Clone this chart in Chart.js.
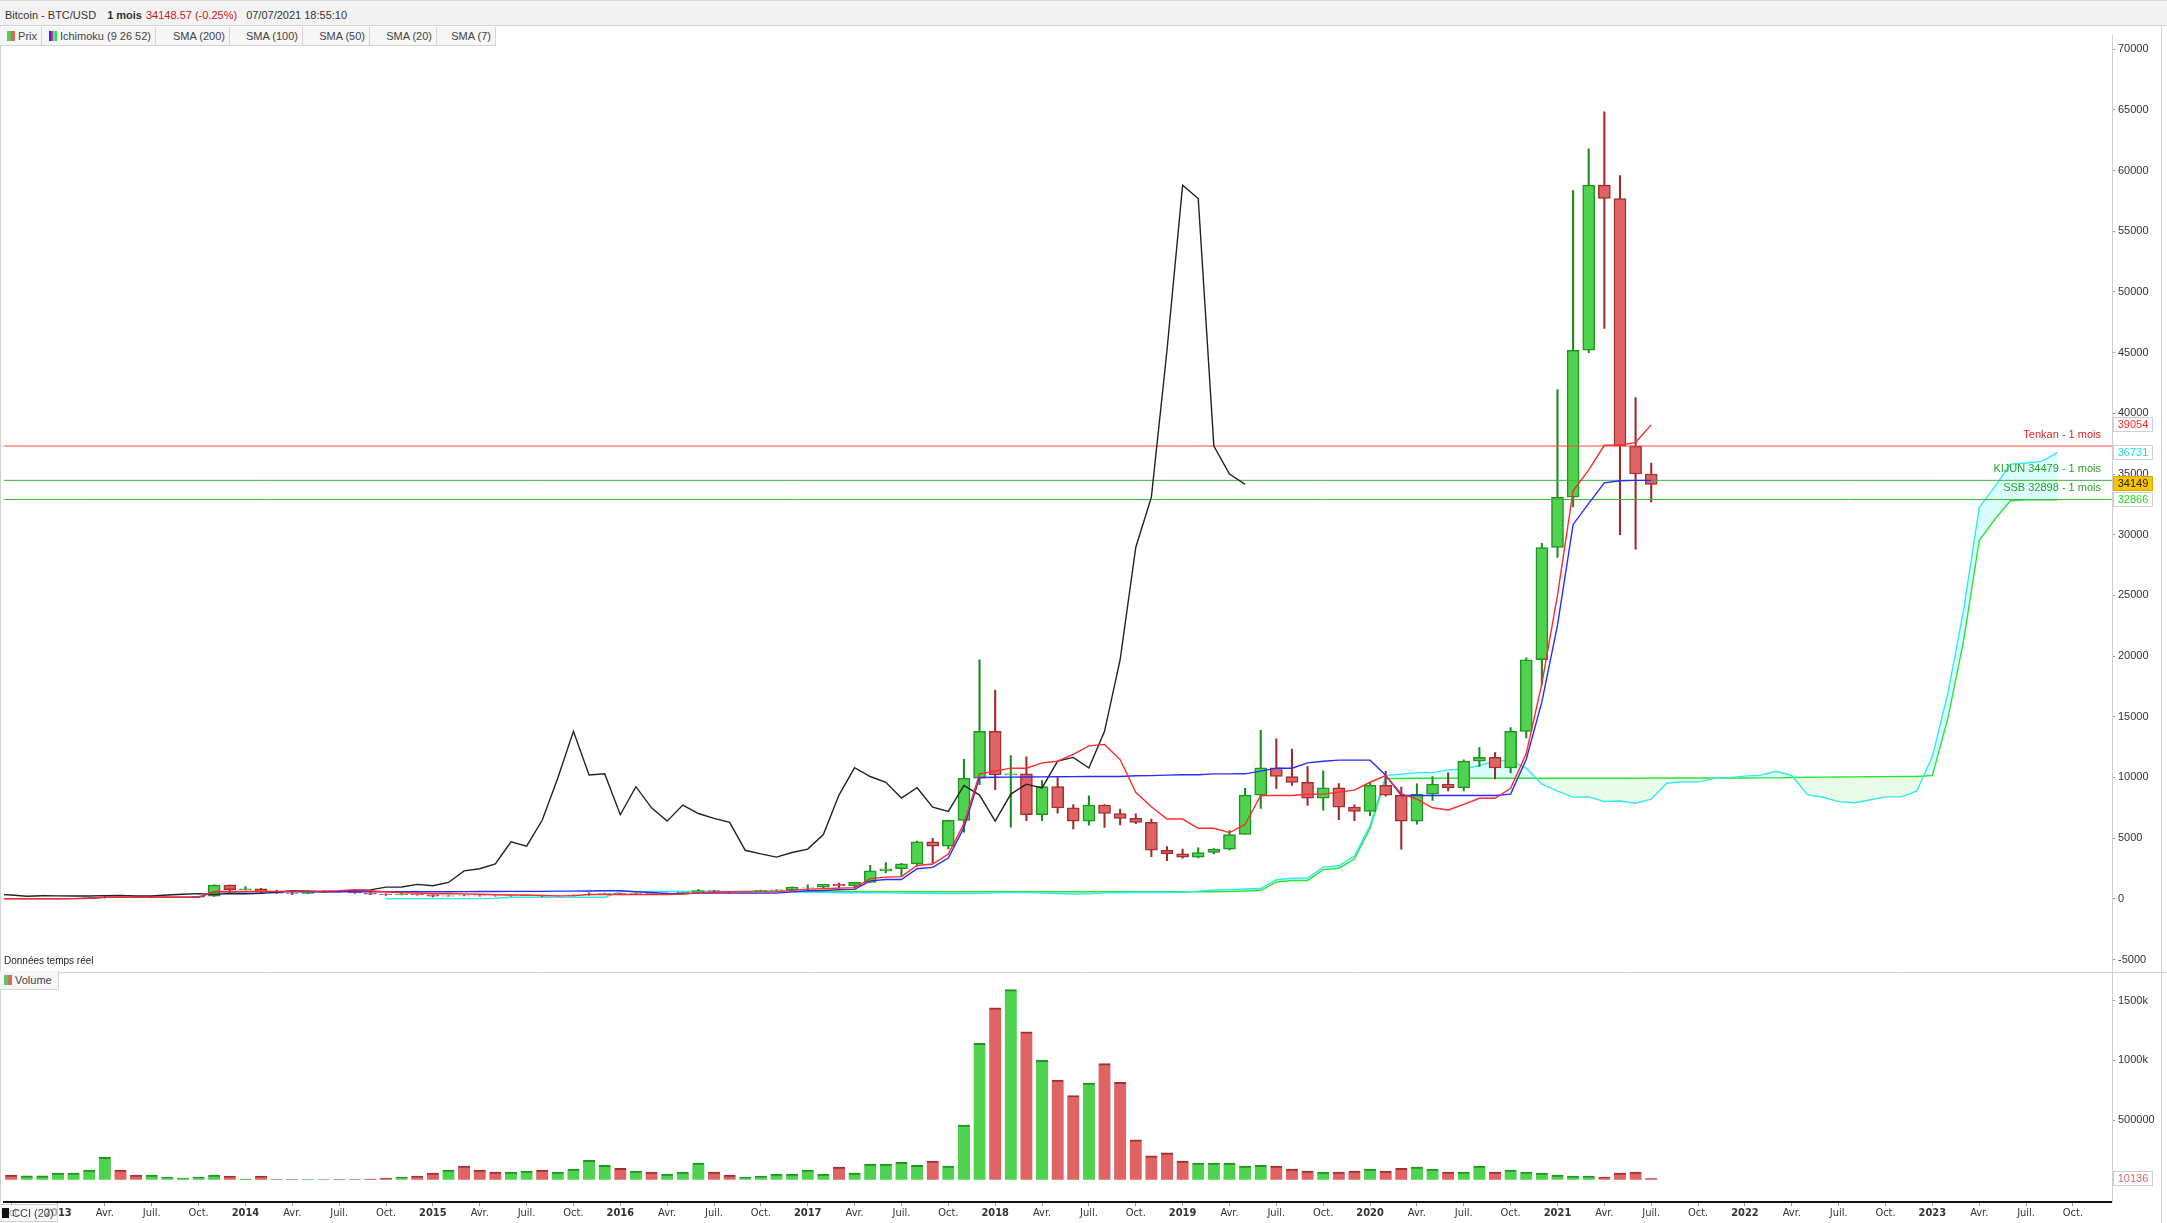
<!DOCTYPE html>
<html>
<head>
<meta charset="utf-8">
<script src="https://cdn.jsdelivr.net/npm/chart.js"></script>
<style>
  body { margin: 0; width: 2167px; height: 1223px; overflow: hidden; background: #fff; position: relative;
         font-family: "Liberation Sans", Arial, sans-serif; }
  #head { position: absolute; left: 0; top: 0; width: 2167px; height: 26px; box-sizing: border-box;
          background: #f3f3f3; border-top: 1px solid #d8d8d8; border-bottom: 1px solid #d0d0d0;
          font-size: 11px; color: #333; line-height: 29px; padding-left: 5px; white-space: nowrap; }
  #head b { font-weight: bold; margin-left: 8px; }
  #head .px { color: #c41a1a; margin-left: 4px; }
  #head .dt { margin-left: 9px; }
  #legend { position: absolute; left: 0; top: 27px; height: 19px; display: flex; font-size: 11px; color: #444; }
  #legend div { height: 19px; line-height: 19px; box-sizing: border-box; border: 1px solid #d4d4d4; border-top: none;
                border-left: none; background: #f6f6f6; text-align: right; padding-right: 4px; }
  .sw { display: inline-block; width: 8px; height: 10px; vertical-align: -1px; margin-right: 3px; }
  #vol { position: absolute; left: 0; top: 971px; width: 59px; height: 19px; box-sizing: border-box; border: 1px solid #d4d4d4;
         border-left: none; border-top: none; background: #f6f6f6; font-size: 11px; color: #444; line-height: 18px; padding-left: 4px; }
  #cci { position: absolute; left: 0; top: 1204px; width: 58px; height: 18px; box-sizing: border-box; border: 1px solid #cfcfcf;
         border-left: none; background: rgba(246,246,246,0.6); font-size: 11px; color: #444; line-height: 16px; padding-left: 2px; }
  #c { position: absolute; left: 0; top: 26px; }
</style>
</head>
<body>
<canvas id="c" width="2167" height="1197"></canvas>
<div id="head">Bitcoin - BTC/USD <b>1 mois</b><span class="px">34148.57 (-0.25%)</span><span class="dt">07/07/2021 18:55:10</span></div>
<div id="legend">
  <div style="width:42px"><span class="sw" style="background:linear-gradient(90deg,#4fd24f 50%,#e06464 50%)"></span>Prix</div>
  <div style="width:114px"><span class="sw" style="background:linear-gradient(90deg,#2b2bff 25%,#ff2a2a 25%,#ff2a2a 50%,#33e8f0 50%,#33e8f0 75%,#2ee62e 75%)"></span>Ichimoku (9 26 52)</div>
  <div style="width:74px">SMA (200)</div>
  <div style="width:73px">SMA (100)</div>
  <div style="width:67px">SMA (50)</div>
  <div style="width:67px">SMA (20)</div>
  <div style="width:59px">SMA (7)</div>
</div>
<div id="vol"><span class="sw" style="background:linear-gradient(90deg,#4fd24f 50%,#e06464 50%)"></span>Volume</div>
<div id="cci"><span class="sw" style="background:#111;width:7px"></span>CCI (20)</div>
<script>
// Monthly candles, first month = July 2010
const firstYear = 2010
const firstMonth = 7

const open = [
  0.05, 0.07, 0.06, 0.06, 0.19, 0.21,
  0.30, 0.52, 0.86, 0.78, 3.5, 8.7, 16.1, 13.4, 8.2, 5.1, 3.25, 2.97,
  4.7, 5.5, 4.9, 4.9, 5.0, 5.2, 6.7, 9.3, 10.2, 12.4, 11.2, 12.6,
  13.5, 20.4, 33.4, 93, 139, 129, 97, 106, 135, 139, 211, 1130,
  754, 830, 550, 457, 447, 630, 640, 585, 480, 387, 338, 378,
  320, 217, 254, 244, 236, 230, 263, 284, 230, 236, 314, 377,
  430, 368, 437, 416, 448, 531, 673, 624, 575, 609, 700, 742,
  964, 970, 1190, 1080, 1350, 2300, 2480, 2875, 4700, 4340, 6470, 9950,
  13800, 10200, 10300, 6930, 9240, 7500, 6400, 7730, 7030, 6630, 6300, 4000,
  3700, 3440, 3820, 4100, 5300, 8550, 10800, 10080, 9600, 8300, 9150, 7550,
  7200, 9350, 8550, 6400, 8630, 9450, 9140, 11350, 11650, 10780, 13800, 19700,
  28950, 33100, 45200, 58800, 57700, 37300, 35000
]
const high = [
  0.10, 0.07, 0.17, 0.20, 0.50, 0.30,
  0.50, 1.10, 0.95, 4.0, 9.0, 31.9, 17.0, 14.0, 9.0, 5.2, 3.5, 4.8,
  7.2, 6.2, 5.4, 5.3, 5.2, 6.7, 9.6, 15.4, 12.5, 12.9, 12.6, 13.9,
  20.4, 33.4, 95.7, 259, 140, 129, 111, 141, 145, 220, 1163, 1163,
  1000, 870, 715, 547, 635, 680, 650, 600, 510, 415, 465, 385,
  320, 265, 300, 261, 247, 268, 318, 285, 247, 331, 502, 468,
  462, 445, 440, 470, 548, 780, 704, 624, 612, 720, 755, 979,
  1154, 1200, 1290, 1360, 2760, 2980, 2920, 4750, 4980, 6490, 11500, 19700,
  17200, 11800, 11700, 9750, 10000, 7770, 8480, 7770, 7400, 7000, 6570, 4300,
  4100, 4200, 4150, 5620, 9100, 13880, 13180, 12330, 10900, 10540, 9500, 7750,
  9580, 10500, 9200, 9470, 10070, 10380, 11450, 12470, 12050, 14100, 19860, 29300,
  41950, 58350, 61800, 64854, 59600, 41300, 35900
]
const low = [
  0.05, 0.06, 0.06, 0.06, 0.19, 0.20,
  0.30, 0.52, 0.70, 0.60, 3.0, 8.7, 12.0, 7.0, 4.8, 2.0, 2.0, 2.8,
  4.7, 4.2, 4.7, 4.8, 4.9, 5.2, 6.5, 7.1, 9.9, 9.8, 10.5, 12.5,
  13.2, 19.1, 33.1, 50, 95.8, 88, 65, 100, 110, 118, 196, 522,
  740, 420, 440, 340, 430, 550, 560, 440, 350, 275, 318, 300,
  166, 212, 236, 210, 225, 218, 252, 200, 225, 236, 300, 346,
  352, 365, 395, 412, 441, 526, 608, 470, 570, 605, 680, 742,
  750, 920, 890, 900, 1350, 2130, 1830, 2700, 2970, 4110, 5500, 9400,
  9000, 5900, 6450, 6430, 7050, 5750, 6070, 5880, 6100, 6200, 3480, 3150,
  3350, 3380, 3700, 4040, 5330, 7450, 9100, 9350, 7700, 7300, 6520, 6430,
  6850, 8450, 4100, 6150, 8100, 8900, 8900, 10900, 9880, 10370, 13250, 17600,
  28130, 32300, 45000, 47000, 30000, 28800, 32700
]
const close = [
  0.07, 0.06, 0.06, 0.19, 0.21, 0.30,
  0.52, 0.86, 0.78, 3.5, 8.7, 16.1, 13.4, 8.2, 5.1, 3.25, 2.97, 4.7,
  5.5, 4.9, 4.9, 5.0, 5.2, 6.7, 9.3, 10.2, 12.4, 11.2, 12.6, 13.5,
  20.4, 33.4, 93, 139, 129, 97, 106, 135, 139, 211, 1130, 754,
  830, 550, 457, 447, 630, 640, 585, 480, 387, 338, 378, 320,
  217, 254, 244, 236, 230, 263, 284, 230, 236, 314, 377, 430,
  368, 437, 416, 448, 531, 673, 624, 575, 609, 700, 742, 964,
  970, 1190, 1080, 1350, 2300, 2480, 2875, 4700, 4340, 6470, 9950, 13800,
  10200, 10300, 6930, 9240, 7500, 6400, 7730, 7030, 6630, 6300, 4000, 3700,
  3440, 3820, 4100, 5300, 8550, 10800, 10080, 9600, 8300, 9150, 7550, 7200,
  9350, 8550, 6400, 8630, 9450, 9140, 11350, 11650, 10780, 13800, 19700, 28950,
  33100, 45200, 58800, 57700, 37300, 35000, 34149
]
// volume in thousands (nothing shown before Oct 2012)
const volumeK = [
  null, null, null, null, null, null,
  null, null, null, null, null, null, null, null, null, null, null, null,
  null, null, null, null, null, null, null, null, null, 39, 33, 33,
  56, 56, 81, 189, 81, 39, 39, 22, 14, 22, 39, 31,
  6, 31, 2, 2, 2, 2, 2, 2, 6, 14, 22, 31,
  56, 81, 114, 81, 64, 64, 72, 81, 64, 89, 164, 122,
  97, 72, 64, 47, 64, 139, 64, 39, 22, 31, 47, 47,
  81, 47, 106, 56, 131, 131, 147, 122, 156, 114, 459, 1143,
  1440, 1593, 1240, 1000, 834, 706, 809, 973, 817, 334, 200, 225,
  156, 139, 139, 139, 114, 122, 114, 89, 72, 64, 64, 72,
  89, 72, 97, 106, 89, 64, 64, 114, 64, 81, 64, 56,
  39, 31, 31, 22, 56, 64, 10
]

// price axis and volume axis tick values
const priceTicks = [-5000, 0, 5000, 10000, 15000, 20000, 25000, 30000, 35000, 40000, 45000, 50000, 55000, 60000, 65000, 70000]
const volumeTicks = [500000, 1000000, 1500000]

// horizontal levels on the right
const levelLabels = ['Tenkan - 1 mois', 'KIJUN 34479 - 1 mois', 'SSB 32898 - 1 mois']
const levelValues = [37310, 34479, 32898]
const levelColors = ['#ff4545', '#3cb43c', '#3cb43c']
const levelTextColors = ['#e52222', '#2a9e2a', '#2a9e2a']

// last values boxes on the price axis
const lastValues = [39054, 36731, 34149, 32866]
const lastColors = ['#ff2a2a', '#22dede', '#222', '#22dd22']
const lastVolume = 10136

const quarterNames = { 3: 'Avr.', 6: 'Juil.', 9: 'Oct.' }

const GREEN = '#4fd24f', GREEN_DARK = '#1f961f'
const RED = '#e06464', RED_DARK = '#a33030'

// x value = months since Jan 2013
const jan2013 = (2013 - firstYear) * 12 + (1 - firstMonth)
const mx = i => i - jan2013
const up = close.map((c, i) => c >= open[i])

// Ichimoku (9 26 52)
function midRange(n, i) {
  if (i - n + 1 < 0) return null
  let h = -Infinity, l = Infinity
  for (let k = i - n + 1; k <= i; k++) {
    h = Math.max(h, high[k])
    l = Math.min(l, low[k])
  }
  return (h + l) / 2
}
const tenkan = close.map((_, i) => ({ x: mx(i), y: midRange(9, i) }))
const kijun = close.map((_, i) => ({ x: mx(i), y: midRange(26, i) }))
const spanA = close.map((_, i) => {
  const t = midRange(9, i), k = midRange(26, i)
  return { x: mx(i) + 26, y: (t === null || k === null) ? null : (t + k) / 2 }
})
const spanB = close.map((_, i) => ({ x: mx(i) + 26, y: midRange(52, i) }))
const chikou = close.map((c, i) => ({ x: mx(i) - 26, y: c }))

const X_MIN = -3.46, X_MAX = 131.5

const lineDs = (label, data, color, order) => ({
  type: 'line', label, data, yAxisID: 'y', borderColor: color, borderWidth: 1.4,
  pointRadius: 0, fill: false, tension: 0, order, spanGaps: false
})

const datasets = [
  lineDs('Tenkan', tenkan, '#ff2a2a', 0),
  lineDs('Kijun', kijun, '#2b2bff', 0),
  lineDs('Chikou', chikou, '#222222', 0),
  Object.assign(lineDs('Senkou A', spanA, '#33e8f0', 4), {
    fill: { target: '+1', above: 'rgba(0,240,240,0.14)', below: 'rgba(40,230,40,0.10)' }
  }),
  lineDs('Senkou B', spanB, '#2ee62e', 4),
  {
    type: 'bar', label: 'Mèches', yAxisID: 'y', grouped: false, order: 3,
    data: close.map((_, i) => ({ x: mx(i), y: [low[i], high[i]] })),
    backgroundColor: up.map(u => u ? '#1a8c1a' : '#9b2b2b'),
    barThickness: 1.4
  },
  {
    type: 'bar', label: 'Prix', yAxisID: 'y', grouped: false, order: 2,
    data: close.map((c, i) => ({ x: mx(i), y: [Math.min(open[i], c), Math.max(open[i], c)] })),
    backgroundColor: up.map(u => u ? GREEN : RED),
    borderColor: up.map(u => u ? GREEN_DARK : RED_DARK),
    borderWidth: 1.5, borderSkipped: false, barThickness: 12
  },
  {
    type: 'bar', label: 'Volume', yAxisID: 'yv', grouped: false, order: 2,
    data: volumeK.map((v, i) => ({ x: mx(i), y: v === null ? null : v * 1000 })),
    backgroundColor: up.map(u => u ? GREEN : RED),
    borderColor: up.map(u => u ? GREEN_DARK : RED_DARK),
    borderWidth: { top: 2, left: 0, right: 0, bottom: 0 }, borderSkipped: false, barThickness: 12
  }
]
levelValues.forEach((v, k) => {
  datasets.push(Object.assign(lineDs(levelLabels[k], [{ x: X_MIN, y: v }, { x: X_MAX, y: v }], levelColors[k], 1), { borderWidth: 1 }))
})

const overlay = {
  id: 'overlay',
  afterDraw(chart) {
    const ctx = chart.ctx, ys = chart.scales.y, yv = chart.scales.yv, area = chart.chartArea
    ctx.save()
    // panel separator + frame
    ctx.strokeStyle = '#d2d2d2'
    ctx.lineWidth = 1
    ctx.beginPath()
    ctx.moveTo(0, Math.round(yv.top) + 0.5); ctx.lineTo(chart.width, Math.round(yv.top) + 0.5)
    ctx.moveTo(0.5, 0); ctx.lineTo(0.5, area.bottom)
    ctx.moveTo(chart.width - 5.5, 0); ctx.lineTo(chart.width - 5.5, chart.height)
    ctx.stroke()

    ctx.font = '11px "Liberation Sans", Arial, sans-serif'
    ctx.textAlign = 'right'
    ctx.textBaseline = 'middle'
    levelValues.forEach((v, k) => {
      ctx.fillStyle = levelTextColors[k]
      ctx.fillText(levelLabels[k], area.right - 11, ys.getPixelForValue(v) - 11.5)
    })

    const box = (text, py, color, bg, border) => {
      ctx.fillStyle = bg
      ctx.fillRect(area.right + 1.5, Math.round(py) - 7.5, 39, 14)
      ctx.strokeStyle = border
      ctx.strokeRect(area.right + 1.5, Math.round(py) - 7.5, 39, 14)
      ctx.fillStyle = color
      ctx.textAlign = 'center'
      ctx.fillText(text, area.right + 21, Math.round(py))
    }
    lastValues.forEach((v, k) => {
      const isPrice = k === 2
      box(String(v), ys.getPixelForValue(v), lastColors[k], isPrice ? '#f7c600' : '#fff', isPrice ? '#e0a800' : '#d0d0d0')
    })
    box(String(lastVolume), yv.getPixelForValue(lastVolume), '#e06464', '#fff', '#d0d0d0')

    ctx.font = '10px "Liberation Sans", Arial, sans-serif'
    ctx.fillStyle = '#222'
    ctx.textAlign = 'left'
    ctx.fillText('Données temps réel', 4, ys.bottom - 11)
    ctx.restore()
  }
}

const tickFont = { family: '"Liberation Sans", Arial, sans-serif', size: 11 }

new Chart(document.getElementById('c'), {
  data: { datasets },
  options: {
    responsive: false,
    animation: false,
    devicePixelRatio: 1,
    layout: { padding: 0, autoPadding: false },
    plugins: { legend: { display: false }, tooltip: { enabled: false } },
    scales: {
      x: {
        type: 'linear', position: 'bottom', min: X_MIN, max: X_MAX, offset: false,
        afterBuildTicks: s => {
          const t = []
          for (let m = -3; m <= 131; m += 3) t.push({ value: m })
          s.ticks = t
        },
        afterFit: s => { s.height = 21 },
        ticks: {
          autoSkip: false, maxRotation: 0, padding: 1, color: '#333',
          font: c => ({
            family: '"Liberation Sans Narrow", "DejaVu Sans Condensed", sans-serif', size: 11,
            weight: (c.tick && ((c.tick.value % 12) + 12) % 12 === 0) ? 'bold' : 'normal'
          }),
          callback: v => {
            const q = ((v % 12) + 12) % 12
            return q === 0 ? String(2013 + v / 12) : quarterNames[q]
          }
        },
        grid: { drawOnChartArea: false, offset: false, tickLength: 4, color: '#999' },
        border: { color: '#111', width: 2 }
      },
      y: {
        type: 'linear', position: 'right', stack: 'panels', stackWeight: 944,
        min: -6020, max: 71125,
        afterFit: s => { s.width = 55 },
        afterBuildTicks: s => { s.ticks = priceTicks.map(v => ({ value: v })) },
        ticks: { autoSkip: false, color: '#333', font: tickFont, padding: 3, callback: v => String(v) },
        grid: { drawOnChartArea: false, tickLength: 3, color: '#999' },
        border: { color: '#cfcfcf' }
      },
      yv: {
        type: 'linear', position: 'right', stack: 'panels', stackWeight: 232,
        min: -186000, max: 1741000,
        afterFit: s => { s.width = 55 },
        afterBuildTicks: s => { s.ticks = volumeTicks.map(v => ({ value: v })) },
        ticks: {
          autoSkip: false, color: '#333', font: tickFont, padding: 3,
          callback: v => v >= 1000000 ? (v / 1000) + 'k' : String(v)
        },
        grid: { drawOnChartArea: false, tickLength: 3, color: '#999' },
        border: { color: '#cfcfcf' }
      }
    }
  },
  plugins: [overlay]
})
</script>
</body>
</html>
